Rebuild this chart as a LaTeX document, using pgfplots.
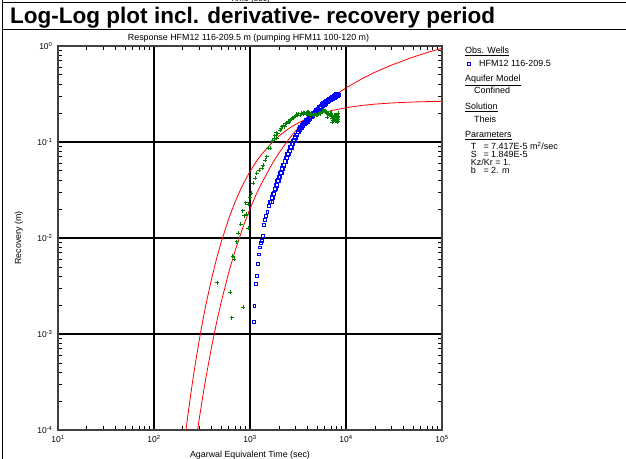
\documentclass[border=0pt]{standalone}
\usepackage{fontspec}
\setmainfont{Liberation Sans}
\usepackage{pgfplots}
\pgfplotsset{compat=1.18}
\definecolor{dgreen}{RGB}{0,128,0}
\definecolor{pblue}{RGB}{0,0,255}
\definecolor{pred}{RGB}{255,0,0}

\begin{document}
\begin{tikzpicture}
\useasboundingbox (0bp,0bp) rectangle (626bp,459bp);
\draw[line width=1.3bp] (2.7bp,456.3bp) -- (626bp,456.3bp);
\draw[line width=1.3bp] (2.7bp,429.7bp) -- (626bp,429.7bp);
\draw[line width=1.3bp] (2.7bp,459bp) -- (2.7bp,0bp);
\node[anchor=base, font=\fontsize{8.5}{9}\selectfont, inner sep=0] at (250bp,457.5bp) {Time (sec)};
\node[anchor=base west, font=\fontsize{22.6}{23}\selectfont\bfseries, inner sep=0] at (10bp,435bp) {Log-Log plot incl. derivative- recovery period};
\node[anchor=base, font=\fontsize{8.9}{9}\selectfont, inner sep=0] at (248.5bp,418.5bp) {Response HFM12 116-209.5 m (pumping HFM11 100-120 m)};
\node[anchor=base, font=\fontsize{8.9}{9}\selectfont, inner sep=0] at (250bp,1.5bp) {Agarwal Equivalent Time (sec)};
\node[rotate=90, anchor=base, font=\fontsize{8.9}{9}\selectfont, inner sep=0] at (21bp,221bp) {Recovery (m)};

\begin{axis}[
  at={(58bp,29bp)}, anchor=south west,
  scale only axis, width=384bp, height=384bp,
  xmode=log, ymode=log,
  xmin=10, xmax=1e5, ymin=1e-4, ymax=1,
  xtick={10,100,1000,10000,100000},
  xticklabels={10\textsuperscript{1},10\textsuperscript{2},10\textsuperscript{3},10\textsuperscript{4},10\textsuperscript{5}},
  ytick={1e-4,1e-3,1e-2,1e-1,1},
  yticklabels={10\textsuperscript{-4},10\textsuperscript{-3},10\textsuperscript{-2},10\textsuperscript{-1},10\textsuperscript{0}},
  minor xtick={20,30,40,50,60,70,80,90,200,300,400,500,600,700,800,900,2000,3000,4000,5000,6000,7000,8000,9000,20000,30000,40000,50000,60000,70000,80000,90000},
  minor ytick={2e-4,3e-4,4e-4,5e-4,6e-4,7e-4,8e-4,9e-4,2e-3,3e-3,4e-3,5e-3,6e-3,7e-3,8e-3,9e-3,2e-2,3e-2,4e-2,5e-2,6e-2,7e-2,8e-2,9e-2,0.2,0.3,0.4,0.5,0.6,0.7,0.8,0.9},
  tick label style={font=\fontsize{8.5}{8.5}\selectfont},
  xticklabel style={yshift=-2bp},
  yticklabel style={xshift=-2bp},
  tick align=inside,
  major tick length=0bp,
  minor tick length=4.5bp,
  tick style={black, line width=0.8bp},
  xmajorgrids, ymajorgrids,
  major grid style={black, line width=1.1bp},
  axis line style={black!75, line width=1.3bp},
  clip=true,
]
% observed recovery (blue squares), early points
\addplot[only marks, mark=square, mark size=1.45bp, pblue, mark options={line width=0.65bp}] coordinates {
(1100,0.00134) (1109,0.00196) (1146,0.00332) (1175,0.00402) (1203,0.00540)
(1241,0.00676) (1271,0.0080) (1324,0.0094) (1310,0.0090) (1356,0.0105) (1400,0.0137)
(1433,0.0154) (1468,0.0170) (1514,0.0188) (1577,0.0216) (1614,0.0239)
};
% observed recovery, dense late band
\addplot[only marks, mark=square, mark size=1.8bp, pblue, mark options={line width=0.8bp}] coordinates {
(1660,0.02371) (1718,0.02636) (1778,0.02931) (1841,0.03251) (1905,0.03614)
(1972,0.03972) (2042,0.04375) (2113,0.04808) (2188,0.05297) (2265,0.05794)
(2344,0.0631) (2427,0.06887) (2512,0.07499) (2600,0.08166) (2692,0.0884)
(2786,0.0955) (2884,0.1033) (2985,0.1114) (3090,0.1189) (3199,0.1268)
(3311,0.1343) (3428,0.1416) (3548,0.1486) (3673,0.1545) (3802,0.1596)
(3936,0.1648) (4074,0.1706) (4217,0.1766) (4365,0.1828) (4519,0.1892)
(4677,0.1954) (4842,0.2023) (5012,0.2094) (5188,0.2168) (5370,0.2244)
(5559,0.2323) (5754,0.2410) (5957,0.2477) (6166,0.2541) (6383,0.2612)
(6607,0.2679) (6839,0.2748) (7079,0.2805) (7328,0.2864) (7586,0.2924)
(7852,0.2985) (8128,0.3048) (8318,0.3090)
(1689,0.0259) (1748,0.0288) (1809,0.0320) (1873,0.0355) (1938,0.0392)
(2007,0.0431) (2077,0.0475) (2150,0.0522) (2226,0.0573) (2304,0.0626)
(2385,0.0682) (2469,0.0744) (2556,0.0810) (2646,0.0879) (2739,0.0951)
(2835,0.1028) (2934,0.1110) (3037,0.1191) (3144,0.1271) (3255,0.1351)
(3369,0.1427) (3488,0.1502) (3610,0.1568) (3737,0.1625) (3868,0.1679)
(4004,0.1736) (4145,0.1797) (4290,0.1860) (4441,0.1925) (4597,0.1990)
(4759,0.2058) (4926,0.2130) (5099,0.2206) (5278,0.2283) (5464,0.2363)
(5656,0.2449) (5855,0.2528) (6060,0.2597) (6274,0.2666) (6494,0.2738)
(6722,0.2808) (6958,0.2873) (7203,0.2933) (7456,0.2995) (7718,0.3057)
(7989,0.3122) (8223,0.3176)
};
% derivative (green plus)
\addplot[only marks, mark=+, mark size=2bp, dgreen, mark options={line width=0.8bp}] coordinates {
(456,3.42e-3) (619,2.72e-3) (645,1.48e-3) (851,1.90e-3) (660,6.49e-3) (686,6.0e-3)
(727,9.15e-3) (755,1.12e-2) (800,1.40e-2) (839,1.92e-2) (873,1.71e-2) (902,2.33e-2)
(924,1.78e-2) (960,1.26e-2) (960,2.26e-2) (1000,2.63e-2) (1024,2.92e-2) (1082,3.71e-2)
(1127,4.19e-2) (1174,4.72e-2) (1241,5.11e-2) (1344,5.32e-2) (1377,5.76e-2) (1433,6.49e-2)
(1492,7.03e-2) (1552,8.60e-2) (1616,8.60e-2) (1683,0.1007) (1720,0.104) (1778,0.1093)
(1800,0.116) (1866,0.125) (1897,0.1093) (1950,0.122) (2053,0.1334) (2100,0.140)
(2223,0.1503) (2300,0.145) (2409,0.1566) (2500,0.165) (2611,0.1695) (2700,0.172)
(2806,0.178) (2950,0.185) (3065,0.196) (3200,0.198) (3318,0.191) (3450,0.195)
(3592,0.2019) (3700,0.199) (3830,0.2005) (3950,0.205) (4048,0.207) (4217,0.191)
(4400,0.200) (4532,0.196) (4700,0.193) (4950,0.191) (5150,0.196) (5358,0.198)
(5550,0.205) (5808,0.2155) (6050,0.212) (6294,0.207) (6340,0.182) (6550,0.200)
(6813,0.2005) (7000,0.190) (7096,0.1836) (7150,0.1615) (7325,0.1695) (7500,0.191)
(7680,0.1695) (7800,0.175) (7870,0.182) (8000,0.185) (8115,0.1766) (8200,0.170)
(8260,0.2005) (8318,0.1655)
(2150,0.145) (2350,0.155) (2550,0.160) (2750,0.176) (2900,0.182) (3100,0.190)
(3400,0.200) (3600,0.196) (3900,0.196) (4150,0.200) (4300,0.195) (4600,0.190)
(4850,0.195) (5050,0.192) (5250,0.200) (5450,0.200) (5700,0.208) (5950,0.210)
(6150,0.205) (6450,0.195) (6700,0.190)
(6900,0.195) (7050,0.200) (7200,0.178) (7400,0.180) (7550,0.172) (7650,0.185)
(7750,0.190) (7950,0.165) (8100,0.190) (8250,0.180) (8318,0.185) (8150,0.160)
(7900,0.172) (7450,0.165)
};
% Theis derivative (red)
\addplot[pred, line width=0.8bp, mark=none] coordinates {
(200,5.49e-5) (225,1.412e-4) (250,3.007e-4) (275,5.58e-4) (300,9.33e-4) (325,1.444e-3)
(350,2.099e-3) (400,3.851e-3) (450,6.17e-3) (500,9.01e-3) (600,1.588e-2) (700,2.381e-2)
(800,3.225e-2) (850,3.654e-2) (1000,4.932e-2) (1150,6.16e-2) (1300,7.30e-2) (1700,9.93e-2)
(2000,0.1154) (2500,0.1368) (3000,0.1532) (3500,0.1661) (4000,0.1765) (5000,0.1922)
(6000,0.2034) (7000,0.2118) (10000,0.2278) (15000,0.2411) (20000,0.2480) (30000,0.2551)
(50000,0.2610) (70000,0.2635) (100000,0.2654)
};
% Theis drawdown (red)
\addplot[pred, line width=0.8bp, mark=none] coordinates {
(250,3.91e-5) (275,7.89e-5) (300,1.426e-4) (325,2.366e-4) (350,3.67e-4) (400,7.55e-4)
(450,1.337e-3) (500,2.13e-3) (600,4.36e-3) (700,7.39e-3) (850,1.32e-2) (1000,2.016e-2)
(1150,2.79e-2) (1300,3.613e-2) (1700,5.92e-2) (2000,7.67e-2) (2500,0.1049) (3000,0.1313)
(3500,0.1559) (4000,0.1788) (5000,0.2199) (6000,0.2561) (7000,0.2881) (10000,0.3666)
(15000,0.4618) (20000,0.5322) (30000,0.6343) (50000,0.7662) (70000,0.8545) (100000,0.9479)
};
\end{axis}

% legend panel
\begin{scope}[every node/.style={anchor=base west, inner sep=0, font=\fontsize{9}{9}\selectfont}]
\node at (465bp,405bp) {\underline{Obs. Wells}};
\draw[pblue, line width=0.6bp] (467.6bp,393.5bp) rectangle (470.4bp,396.3bp);
\node at (479bp,392.5bp) {HFM12 116-209.5};
\node at (465bp,377bp) {\underline{Aquifer Model}};
\node at (474bp,365bp) {Confined};
\node at (465bp,349bp) {\underline{Solution}};
\node at (474bp,336.5bp) {Theis};
\node at (465bp,321bp) {\underline{Parameters}};
\node at (470.7bp,309bp) {T};
\node at (483.3bp,309bp) {= 7.417E-5 m\textsuperscript{2}/sec};
\node at (470.7bp,301bp) {S};
\node at (483.3bp,301bp) {= 1.849E-5};
\node at (470.7bp,293.3bp) {Kz/Kr = 1.};
\node at (470.7bp,285.3bp) {b};
\node at (483.3bp,285.3bp) {= 2. m};
\end{scope}
\end{tikzpicture}
\end{document}
